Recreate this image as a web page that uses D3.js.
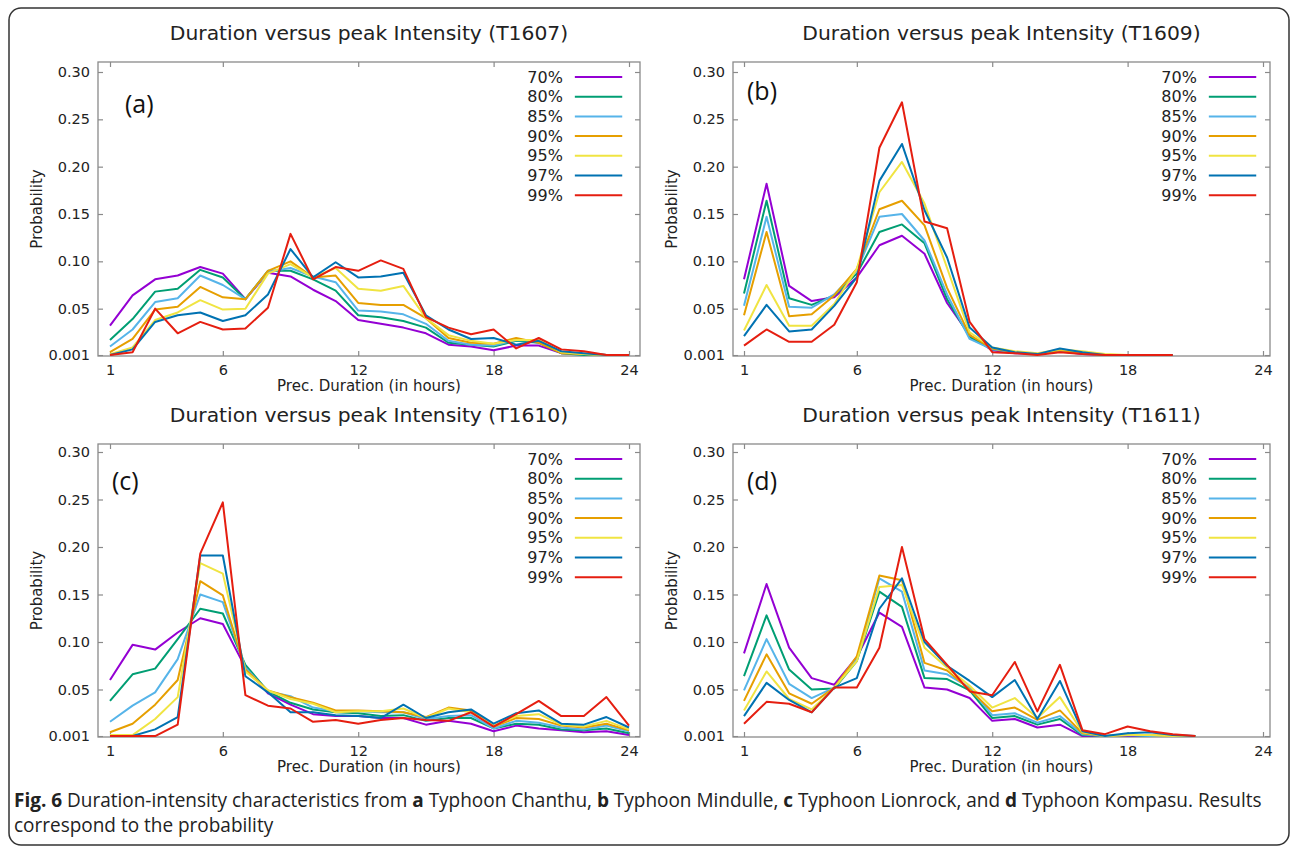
<!DOCTYPE html>
<html><head><meta charset="utf-8">
<script src="https://cdn.jsdelivr.net/npm/d3@7"></script>
<style>
html,body{margin:0;padding:0;background:#fff;}
svg{display:block;}
</style></head>
<body>
<svg id="chart" width="1292" height="848"></svg>
<script>
// ---------- DATA ----------
const thresholds = ["70%","80%","85%","90%","95%","97%","99%"];
const seriesColors = ["#9400d3","#009e73","#56b4e9","#e69f00","#f0e442","#0072b2","#e51e10"];
const xTicks = [1,6,12,18,24];
const yTicks = [0.001,0.05,0.10,0.15,0.20,0.25,0.30];
const yTickLabels = ["0.001","0.05","0.10","0.15","0.20","0.25","0.30"];

// T1607 (a) durations 1..24, one row per threshold
const t1607 = [
  [0.032,0.064,0.081,0.085,0.094,0.087,0.060,0.088,0.084,0.070,0.058,0.038,0.034,0.030,0.024,0.012,0.010,0.006,0.011,0.011,0.003,0.002,0.001,0.001],
  [0.017,0.039,0.068,0.071,0.091,0.083,0.060,0.090,0.090,0.081,0.069,0.043,0.041,0.037,0.030,0.014,0.012,0.010,0.016,0.014,0.003,0.001,0.001,0.001],
  [0.010,0.028,0.057,0.061,0.085,0.075,0.060,0.089,0.093,0.084,0.078,0.048,0.047,0.044,0.034,0.016,0.012,0.011,0.017,0.016,0.004,0.002,0.001,0.001],
  [0.004,0.018,0.049,0.052,0.073,0.062,0.060,0.090,0.100,0.083,0.085,0.056,0.054,0.054,0.040,0.019,0.014,0.013,0.019,0.014,0.003,0.002,0.001,0.001],
  [0.002,0.009,0.038,0.046,0.059,0.049,0.050,0.087,0.097,0.083,0.093,0.071,0.069,0.074,0.040,0.022,0.016,0.013,0.017,0.017,0.004,0.002,0.001,0.001],
  [0.001,0.007,0.036,0.043,0.046,0.037,0.043,0.065,0.113,0.083,0.099,0.083,0.084,0.088,0.043,0.028,0.018,0.019,0.012,0.016,0.005,0.003,0.001,0.001],
  [0.001,0.004,0.050,0.024,0.036,0.028,0.029,0.051,0.129,0.081,0.094,0.090,0.101,0.092,0.041,0.030,0.023,0.028,0.008,0.019,0.007,0.005,0.001,0.001]
];
// T1609 (b) durations 1..20
const t1609 = [
  [0.081,0.182,0.074,0.058,0.062,0.083,0.117,0.127,0.108,0.056,0.022,0.006,0.003,0.002,0.005,0.002,0.001,0.001,0.001,0.001],
  [0.066,0.164,0.061,0.054,0.064,0.087,0.131,0.139,0.119,0.060,0.020,0.007,0.004,0.002,0.006,0.003,0.001,0.001,0.001,0.001],
  [0.053,0.147,0.052,0.051,0.065,0.090,0.147,0.150,0.122,0.065,0.018,0.007,0.004,0.002,0.006,0.003,0.001,0.001,0.001,0.001],
  [0.043,0.131,0.042,0.044,0.064,0.092,0.155,0.164,0.138,0.072,0.022,0.008,0.004,0.002,0.006,0.003,0.001,0.001,0.001,0.001],
  [0.027,0.075,0.032,0.032,0.055,0.092,0.173,0.205,0.161,0.093,0.025,0.009,0.005,0.003,0.007,0.005,0.002,0.001,0.001,0.001],
  [0.021,0.054,0.026,0.028,0.053,0.083,0.185,0.224,0.154,0.104,0.030,0.009,0.004,0.002,0.008,0.004,0.001,0.001,0.001,0.001],
  [0.011,0.028,0.015,0.015,0.033,0.078,0.220,0.268,0.142,0.135,0.036,0.004,0.003,0.001,0.004,0.002,0.001,0.001,0.001,0.001]
];
// T1610 (c) durations 1..24
const t1610 = [
  [0.060,0.097,0.092,0.110,0.125,0.119,0.073,0.046,0.034,0.024,0.022,0.022,0.020,0.020,0.013,0.017,0.014,0.006,0.012,0.009,0.007,0.005,0.006,0.002],
  [0.038,0.066,0.072,0.103,0.135,0.130,0.076,0.048,0.036,0.029,0.026,0.025,0.022,0.023,0.017,0.020,0.020,0.009,0.014,0.013,0.008,0.007,0.009,0.004],
  [0.016,0.033,0.047,0.082,0.150,0.142,0.073,0.048,0.043,0.031,0.027,0.027,0.026,0.026,0.019,0.022,0.023,0.009,0.017,0.015,0.010,0.008,0.012,0.006],
  [0.005,0.014,0.034,0.060,0.164,0.149,0.071,0.049,0.042,0.036,0.028,0.028,0.027,0.026,0.021,0.031,0.028,0.011,0.020,0.019,0.012,0.010,0.014,0.007],
  [0.002,0.002,0.019,0.042,0.183,0.172,0.069,0.049,0.040,0.035,0.026,0.027,0.027,0.030,0.020,0.030,0.026,0.012,0.022,0.024,0.013,0.011,0.017,0.008],
  [0.001,0.001,0.008,0.021,0.191,0.191,0.064,0.047,0.026,0.026,0.023,0.022,0.020,0.034,0.020,0.026,0.029,0.014,0.025,0.028,0.014,0.013,0.021,0.010],
  [0.001,0.001,0.001,0.013,0.193,0.247,0.044,0.033,0.030,0.016,0.018,0.014,0.018,0.020,0.018,0.017,0.026,0.011,0.024,0.038,0.022,0.022,0.042,0.012]
];
// T1611 (d) durations 1..21
const t1611 = [
  [0.088,0.161,0.094,0.062,0.055,0.084,0.131,0.116,0.052,0.050,0.041,0.017,0.019,0.010,0.013,0.001,0.001,0.001,0.001,0.001,0.001],
  [0.064,0.128,0.071,0.050,0.051,0.080,0.153,0.137,0.062,0.061,0.049,0.020,0.022,0.013,0.019,0.002,0.001,0.002,0.001,0.001,0.001],
  [0.049,0.103,0.056,0.041,0.052,0.082,0.167,0.153,0.070,0.066,0.052,0.023,0.025,0.015,0.022,0.003,0.001,0.002,0.001,0.001,0.001],
  [0.038,0.087,0.046,0.035,0.052,0.085,0.170,0.165,0.078,0.070,0.050,0.027,0.031,0.018,0.028,0.004,0.001,0.002,0.002,0.001,0.001],
  [0.028,0.069,0.040,0.029,0.052,0.080,0.158,0.160,0.094,0.073,0.054,0.031,0.041,0.020,0.042,0.005,0.001,0.002,0.002,0.001,0.001],
  [0.022,0.057,0.039,0.026,0.052,0.062,0.135,0.167,0.100,0.075,0.059,0.042,0.060,0.019,0.059,0.006,0.001,0.004,0.005,0.002,0.001],
  [0.014,0.037,0.035,0.026,0.052,0.052,0.094,0.200,0.103,0.076,0.048,0.044,0.079,0.027,0.076,0.007,0.003,0.011,0.006,0.003,0.001]
];

const panelTitles = ["Duration versus peak Intensity (T1607)","Duration versus peak Intensity (T1609)",
                     "Duration versus peak Intensity (T1610)","Duration versus peak Intensity (T1611)"];
const panelTags = ["(a)","(b)","(c)","(d)"];
const xLabel = "Prec. Duration (in hours)";
const yLabel = "Probability";

// ---------- LAYOUT ----------
const svg = d3.select("#chart");
const FONT = "'DejaVu Sans', Verdana, sans-serif";
const frameColor = "#8a8a8a";
const textColor = "#222";

const layouts = [
  {data:t1607, fx0:98,  fx1:640,  fy0:62,  fy1:356, x1px:110, x24px:629,  y30px:72,  tag:[125,113]},
  {data:t1609, fx0:733, fx1:1270, fy0:62,  fy1:356, x1px:744, x24px:1263, y30px:72,  tag:[747,100]},
  {data:t1610, fx0:98,  fx1:640,  fy0:444, fy1:737, x1px:110, x24px:629,  y30px:452, tag:[112,490]},
  {data:t1611, fx0:733, fx1:1270, fy0:444, fy1:737, x1px:744, x24px:1263, y30px:452, tag:[747,490]}
];

layouts.forEach((L, pi) => {
  const x = d3.scaleLinear().domain([1,24]).range([L.x1px, L.x24px]);
  const y = d3.scaleLinear().domain([0,0.30]).range([L.fy1, L.y30px]);
  const g = svg.append("g");
  const cx = (L.fx0 + L.fx1)/2;

  // title
  g.append("text").attr("x", cx).attr("y", L.fy0 - 29).attr("dy","0.35em")
    .attr("text-anchor","middle").attr("font-family",FONT).attr("font-size",20.3)
    .attr("fill",textColor).text(panelTitles[pi]);

  // axes
  const axB = d3.axisBottom(x).tickValues(xTicks).tickSize(-5).tickPadding(9).tickFormat(d3.format("d"));
  const axT = d3.axisTop(x).tickValues(xTicks).tickSize(-5).tickFormat("");
  const axL = d3.axisLeft(y).tickValues(yTicks).tickSize(-5).tickPadding(8).tickFormat((d,i)=>yTickLabels[i]);
  const axR = d3.axisRight(y).tickValues(yTicks).tickSize(-5).tickFormat("");
  const styleAxis = sel => {
    sel.select(".domain").remove();
    sel.selectAll("line").attr("stroke",frameColor).attr("stroke-width",1.2);
    sel.selectAll("text").attr("font-family",FONT).attr("font-size",14.5).attr("fill",textColor);
  };
  g.append("g").attr("transform",`translate(0,${L.fy1})`).call(axB).call(styleAxis);
  g.append("g").attr("transform",`translate(0,${L.fy0})`).call(axT).call(styleAxis);
  g.append("g").attr("transform",`translate(${L.fx0},0)`).call(axL).call(styleAxis);
  g.append("g").attr("transform",`translate(${L.fx1},0)`).call(axR).call(styleAxis);

  // frame
  g.append("rect").attr("x",L.fx0).attr("y",L.fy0).attr("width",L.fx1-L.fx0).attr("height",L.fy1-L.fy0)
    .attr("fill","none").attr("stroke",frameColor).attr("stroke-width",1.3);

  // axis labels
  g.append("text").attr("x",cx).attr("y",L.fy1+30).attr("dy","0.35em").attr("text-anchor","middle")
    .attr("font-family",FONT).attr("font-size",15).attr("fill",textColor).text(xLabel);
  g.append("text").attr("transform",`translate(${L.fx0-61},${(L.fy0+L.fy1)/2}) rotate(-90)`)
    .attr("dy","0.35em").attr("text-anchor","middle")
    .attr("font-family",FONT).attr("font-size",15).attr("fill",textColor).text(yLabel);

  // lines
  const line = d3.line().x((d,i)=>x(i+1)).y(d=>y(d));
  L.data.forEach((s,si)=>{
    g.append("path").datum(s).attr("d",line).attr("fill","none")
      .attr("stroke",seriesColors[si]).attr("stroke-width",2).attr("stroke-linejoin","round");
  });

  // legend
  thresholds.forEach((t,si)=>{
    const ly = L.fy0 + 15 + si*19.7;
    g.append("text").attr("x",x(21.07)).attr("y",ly).attr("dy","0.35em").attr("text-anchor","end")
      .attr("font-family",FONT).attr("font-size",16).attr("fill",textColor).text(t);
    g.append("line").attr("x1",x(21.6)).attr("x2",x(23.7)).attr("y1",ly).attr("y2",ly)
      .attr("stroke",seriesColors[si]).attr("stroke-width",2);
  });

  // panel tag
  g.append("text").attr("x",L.tag[0]).attr("y",L.tag[1]).attr("font-family","'Open Sans', sans-serif")
    .attr("font-size",25).attr("fill","#111").text(panelTags[pi]);
});

// caption and border
svg.append("rect").attr("x",9).attr("y",8).attr("width",1280).attr("height",837).attr("rx",12)
  .attr("fill","none").attr("stroke","#333").attr("stroke-width",1.5);

const CAPFONT = "'Open Sans',sans-serif";
const capG = svg.append("g");
const cap1 = capG.append("text").attr("x",0).attr("y",807).attr("font-family",CAPFONT)
  .attr("font-size",19.5).attr("fill","#222");
const parts = [["Fig. 6",true],[" Duration-intensity characteristics from ",false],["a",true],[" Typhoon Chanthu, ",false],
  ["b",true],[" Typhoon Mindulle, ",false],["c",true],[" Typhoon Lionrock, and ",false],["d",true],[" Typhoon Kompasu. Results",false]];
parts.forEach(p=>cap1.append("tspan").attr("font-weight",p[1]?"bold":"normal").text(p[0]));
capG.append("text").attr("x",0).attr("y",832).attr("font-family",CAPFONT)
  .attr("font-size",19.5).attr("fill","#222").text("correspond to the probability");
// condense horizontally to the reference line width
const natW = cap1.node().getComputedTextLength();
const sx = 1248 / natW;
capG.attr("transform",`translate(14,0) scale(${sx},1)`);
</script>
</body></html>
